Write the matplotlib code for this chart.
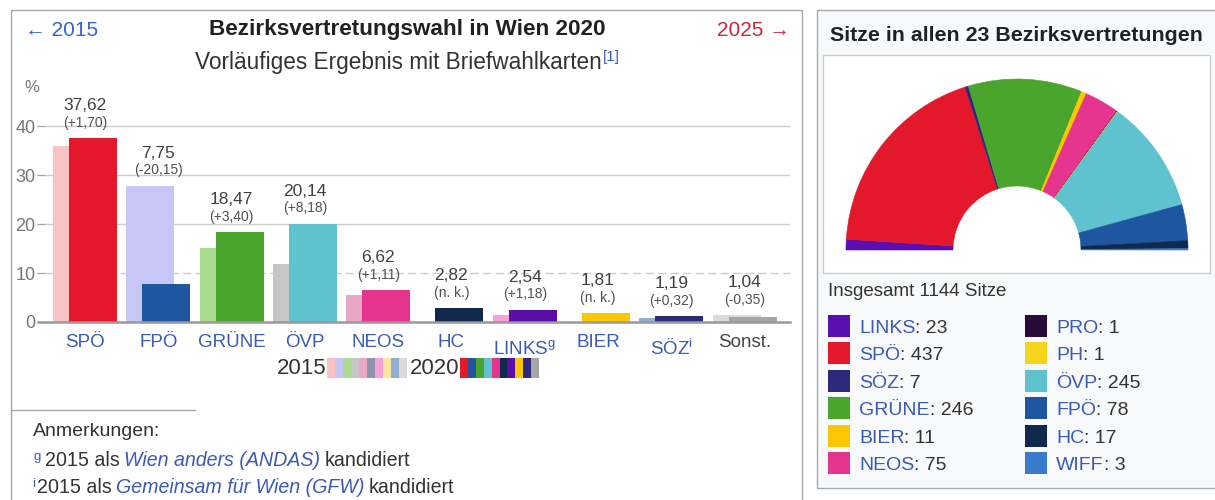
import numpy as np
import matplotlib
matplotlib.use("Agg")
import matplotlib.pyplot as plt
import matplotlib.transforms as mtransforms
from matplotlib.patches import Rectangle

W, H = 1215, 500

# Bezirksvertretungswahl 2020, Stimmenanteile in %
parties = ["SPÖ", "FPÖ", "GRÜNE", "ÖVP", "NEOS", "HC", "LINKS", "BIER", "SÖZ", "Sonst."]
party_sup = ["", "", "", "", "", "", "g", "", "i", ""]
share_2020 = [37.62, 7.75, 18.47, 20.14, 6.62, 2.82, 2.54, 1.81, 1.19, 1.04]
share_2015 = [35.92, 27.90, 15.07, 11.96, 5.51, None, 1.36, None, 0.87, 1.39]
change = ["+1,70", "-20,15", "+3,40", "+8,18", "+1,11", "n. k.", "+1,18", "n. k.", "+0,32", "-0,35"]
colors_2020 = ["#e3192b", "#1f56a0", "#4aa52d", "#5ec3cf", "#e5358f",
               "#10294d", "#5c0fa8", "#fcc600", "#2d2a7e", "#a6a6a6"]
colors_2015 = ["#f9c3c6", "#c7c7f7", "#a9dc8e", "#c6c6c6", "#eaa6c6",
               "#8d93a8", "#f7a0d9", "#fde79f", "#8fb0d0", "#dadada"]
yticks = [0, 10, 20, 30, 40]

# Sitze in allen 23 Bezirksvertretungen
seat_parties = ["LINKS", "SPÖ", "SÖZ", "GRÜNE", "BIER", "NEOS",
                "PRO", "PH", "ÖVP", "FPÖ", "HC", "WIFF"]
seats = [23, 437, 7, 246, 11, 75, 1, 1, 245, 78, 17, 3]
seat_colors = ["#5c0fb0", "#e3192b", "#2d2a7e", "#4aa52d", "#fcc600", "#e5358f",
               "#2a0a3a", "#f5d41c", "#5ec3cf", "#1f56a0", "#10294d", "#3a7bcc"]

LINK = "#3a5bb5"
DARK = "#202122"

plt.rcParams["font.family"] = ["Liberation Sans", "DejaVu Sans"]
plt.rcParams["mathtext.fontset"] = "custom"
plt.rcParams["mathtext.rm"] = "Liberation Sans"

fig = plt.figure(figsize=(W / 100, H / 100), dpi=100)
fig.patch.set_facecolor("white")


def fx(x):
    return x / W


def fy(y):
    return 1 - y / H


def box(x0, y0, x1, y1, fc="none", ec="#a2a9b1", lw=1.0):
    fig.add_artist(Rectangle((fx(x0), fy(y1)), fx(x1) - fx(x0), fy(y0) - fy(y1),
                             transform=fig.transFigure, facecolor=fc,
                             edgecolor=ec, lw=lw, zorder=0))


def seq_text(x, y, parts, ha="left"):
    # parts: (text, gap before in px, raise in px, text kwargs)
    renderer = fig.canvas.get_renderer()
    objs = []
    for s, gap, dy, kw in parts:
        t = fig.text(0, 0, s, va="baseline", **kw)
        objs.append((t, gap, dy, t.get_window_extent(renderer).width))
    total = sum(g + w for _, g, _, w in objs)
    cx = x - total / 2 if ha == "center" else x
    for t, gap, dy, w in objs:
        cx += gap
        t.set_position((fx(cx), fy(y - dy)))
        cx += w


# panels
box(11, 10, 802, 530)
box(817, 10, 1216, 488, fc="#f8f9fa")
box(823, 55, 1210, 273, fc="white", ec="#c8ccd1")

# ---- left: bar chart ----
fig.text(fx(25), fy(30), "← 2015", ha="left", va="center", fontsize=15, color="#3366cc")
fig.text(fx(790), fy(30), "2025 →", ha="right", va="center", fontsize=15, color="#c8283c")
fig.text(fx(407), fy(30), "Bezirksvertretungswahl in Wien 2020", ha="center", va="center",
         fontsize=16.2, fontweight="bold", color=DARK)
seq_text(407, 69, [("Vorläufiges Ergebnis mit Briefwahlkarten", 0, 0, dict(fontsize=16.3, color="#333333")),
                   ("[1]", 1, 8, dict(fontsize=11, color=LINK))], ha="center")
fig.text(fx(32), fy(88), "%", ha="center", va="center", fontsize=12, color="#777777")

ax = fig.add_axes([fx(45), fy(322), (790 - 45) / W, (322 - 77.5) / H])
ax.set_xlim(-0.546, 9.62)
ax.set_ylim(0, 50)
ax.patch.set_alpha(0)
for sp in ax.spines.values():
    sp.set_visible(False)

x = np.arange(len(parties))
bw = 0.655
off = 0.109
x15 = [xi - off for xi, v in zip(x, share_2015) if v is not None]
v15 = [v for v in share_2015 if v is not None]
c15 = [c for c, v in zip(colors_2015, share_2015) if v is not None]
ax.bar(x15, v15, width=bw, color=c15, zorder=2)
ax.bar(x + off, share_2020, width=bw, color=colors_2020, zorder=3)

for yv in yticks[2:]:
    ax.axhline(yv, color="#cccccc", lw=1, zorder=1)
ax.axhline(10, color="#cccccc", lw=1, ls=(0, (6, 3)), zorder=1)
ax.axhline(0, xmin=-0.01, color="#999999", lw=1.8, zorder=4, clip_on=False)

ax.set_xticks([])
ax.set_yticks(yticks)
ax.tick_params(axis="y", length=6, width=1, color="#aaaaaa", labelcolor="#777777",
               labelsize=13, pad=1)

for i, name in enumerate(parties):
    top = max(share_2020[i], share_2015[i] or 0)
    ax.annotate(f"{share_2020[i]:.2f}".replace(".", ","), (i, top), xytext=(0, 20),
                textcoords="offset points", ha="center", va="baseline",
                fontsize=12.5, color="#404040")
    ax.annotate(f"({change[i]})", (i, top), xytext=(0, 8), textcoords="offset points",
                ha="center", va="baseline", fontsize=10, color="#505050")

trans = mtransforms.blended_transform_factory(ax.transData, fig.transFigure)
for i, name in enumerate(parties):
    col = "#444444" if name == "Sonst." else LINK
    if party_sup[i]:
        ax.text(i, fy(355), name + r"$^{\mathregular{%s}}$" % party_sup[i], transform=trans,
                ha="center", va="baseline", fontsize=13.5, color=col)
    else:
        ax.text(i, fy(347), name, transform=trans, ha="center", va="baseline",
                fontsize=13.5, color=col)

# year legend with colour strips
fig.text(fx(326), fy(374), "2015", ha="right", va="baseline", fontsize=16, color="#333333")
fig.text(fx(459), fy(374), "2020", ha="right", va="baseline", fontsize=16, color="#333333")
for k in range(len(parties)):
    fig.add_artist(Rectangle((fx(327 + 8 * k), fy(378)), fx(8), fy(358) - fy(378),
                             transform=fig.transFigure, color=colors_2015[k], lw=0))
    fig.add_artist(Rectangle((fx(460 + 7.9 * k), fy(378)), fx(7.9), fy(358) - fy(378),
                             transform=fig.transFigure, color=colors_2020[k], lw=0))

# notes
fig.add_artist(plt.Line2D([fx(11), fx(195)], [fy(410), fy(410)], transform=fig.transFigure,
                          color="#a2a9b1", lw=1))
fig.text(fx(33), fy(436), "Anmerkungen:", ha="left", va="baseline", fontsize=14, color="#333333")
seq_text(33, 466, [("g", 0, 6, dict(fontsize=9.5, color=LINK)),
                   ("2015 als", 5, 0, dict(fontsize=14.1, color="#333333")),
                   ("Wien anders (ANDAS)", 4, 0, dict(fontsize=14.1, color=LINK, style="italic")),
                   ("kandidiert", 4, 0, dict(fontsize=14.1, color="#333333"))])
seq_text(32, 493, [("i", 0, 6, dict(fontsize=9.5, color=LINK)),
                   ("2015 als", 2, 0, dict(fontsize=14.1, color="#333333")),
                   ("Gemeinsam für Wien (GFW)", 4, 0, dict(fontsize=14.1, color=LINK, style="italic")),
                   ("kandidiert", 4, 0, dict(fontsize=14.1, color="#333333"))])

# ---- right: seat distribution ----
fig.text(fx(830), fy(35), "Sitze in allen 23 Bezirksvertretungen", ha="left", va="center",
         fontsize=15.4, fontweight="bold", color=DARK)

r_out, r_in = 171, 64
cx, cy = 1017, 250
ax2 = fig.add_axes([fx(cx - r_out), fy(cy + r_out), 2 * r_out / W, 2 * r_out / H])
total = sum(seats)
wedges, _ = ax2.pie(seats + [total], colors=seat_colors + ["white"], startangle=180,
                    counterclock=False, radius=1,
                    wedgeprops=dict(width=1 - r_in / r_out, lw=0.4))
for w, c in zip(wedges, seat_colors):
    w.set_edgecolor(c)
wedges[-1].set_visible(False)
ax2.set_xlim(-1, 1)
ax2.set_ylim(-1, 1)
ax2.axis("off")

fig.text(fx(828), fy(292), f"Insgesamt {total} Sitze", ha="left", va="center",
         fontsize=13.5, color="#333333")
for k, (name, n, c) in enumerate(zip(seat_parties, seats, seat_colors)):
    col, row = divmod(k, 6)
    x0 = 828 if col == 0 else 1025
    yc = 326 + 27.4 * row
    fig.add_artist(Rectangle((fx(x0), fy(yc + 11)), fx(22), fy(yc - 11) - fy(yc + 11),
                             transform=fig.transFigure, color=c, lw=0))
    seq_text(x0 + 31, yc + 7, [(name, 0, 0, dict(fontsize=14, color=LINK)),
                               (f": {n}", 0, 0, dict(fontsize=14, color="#333333"))])

fig.savefig("out.png", dpi=100, facecolor="white")
